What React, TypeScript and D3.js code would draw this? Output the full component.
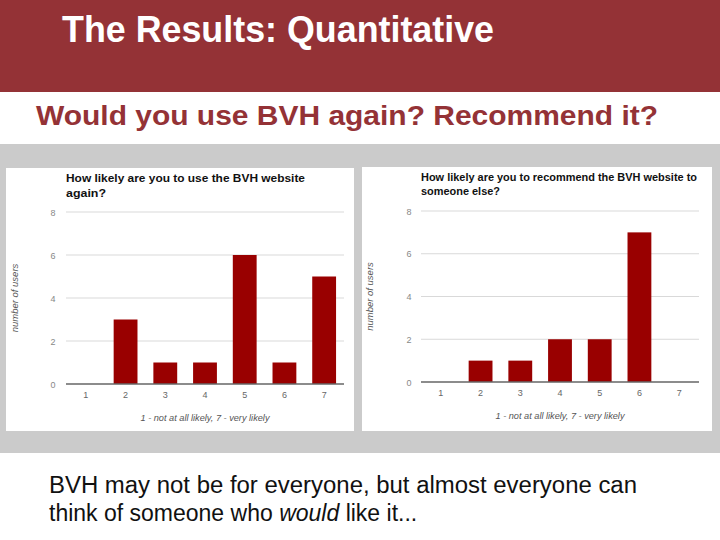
import React from "react";
import * as d3 from "d3";

const categories = ["1", "2", "3", "4", "5", "6", "7"];
const useAgainValues = [0, 3, 1, 1, 6, 1, 5];
const recommendValues = [0, 1, 1, 2, 2, 7, 0];
const yTicks = [0, 2, 4, 6, 8];

const slideTitle = "The Results: Quantitative";
const slideSubtitle = "Would you use BVH again? Recommend it?";
const leftTitle = ["How likely are you to use the BVH website", "again?"];
const rightTitle = ["How likely are you to recommend the BVH website to", "someone else?"];
const xAxisTitle = "1 - not at all likely, 7 - very likely";
const yAxisTitle = "number of users";

const RED = "#943236";
const BAR = "#990000";
const FONT = "'Liberation Sans', Arial, sans-serif";

type ChartProps = {
  panel: { x: number; y: number; w: number; h: number };
  plot: { left: number; right: number; top: number; bottom: number };
  title: string[];
  titleY: number[];
  titleWidths: number[];
  values: number[];
  yTickX: number;
  yTitleX: number;
};

function Chart({ panel, plot, title, titleY, titleWidths, values, yTickX, yTitleX }: ChartProps) {
  const x = d3.scaleBand<string>().domain(categories).range([plot.left, plot.right]).paddingInner(0.4).paddingOuter(0.2);
  const y = d3.scaleLinear().domain([0, 8]).range([plot.bottom, plot.top]);
  const cx = (plot.left + plot.right) / 2;
  const cy = (plot.top + plot.bottom) / 2;
  return (
    <g>
      <rect x={panel.x} y={panel.y} width={panel.w} height={panel.h} fill="#ffffff" />
      {title.map((t, i) => (
        <text key={i} x={plot.left} y={titleY[i]} fontFamily={FONT} fontWeight="bold" fontSize={11.5} fill="#111" textLength={titleWidths[i]} lengthAdjust="spacingAndGlyphs">
          {t}
        </text>
      ))}
      {yTicks.map((t) => (
        <g key={t}>
          {t > 0 && <line x1={plot.left} x2={plot.right} y1={y(t)} y2={y(t)} stroke="#d9d9d9" strokeWidth={1} />}
          <text x={yTickX} y={y(t) + 3.5} textAnchor="middle" fontFamily={FONT} fontSize={9} fill="#888">
            {t}
          </text>
        </g>
      ))}
      {values.map((v, i) => (
        <rect key={i} x={x(categories[i])} y={y(v)} width={x.bandwidth()} height={y(0) - y(v)} fill={BAR} />
      ))}
      <line x1={plot.left} x2={plot.right} y1={y(0)} y2={y(0)} stroke="#666" strokeWidth={1.5} />
      {categories.map((c) => (
        <text key={c} x={(x(c) as number) + x.bandwidth() / 2} y={y(0) + 14} textAnchor="middle" fontFamily={FONT} fontSize={9} fill="#666">
          {c}
        </text>
      ))}
      <text x={cx} y={y(0) + 37} textAnchor="middle" fontFamily={FONT} fontSize={9.2} fontStyle="italic" fill="#555">
        {xAxisTitle}
      </text>
      <text transform={`translate(${yTitleX},${cy}) rotate(-90)`} textAnchor="middle" fontFamily={FONT} fontSize={9.5} fontStyle="italic" fill="#555">
        {yAxisTitle}
      </text>
    </g>
  );
}

export default function App() {
  return (
    <svg width={720} height={540} style={{ position: "absolute", left: 0, top: 0 }}>
      <rect x={0} y={0} width={720} height={540} fill="#ffffff" />
      <rect x={0} y={0} width={720} height={92} fill={RED} />
      <text x={62} y={42} fontFamily={FONT} fontWeight="bold" fontSize={36} fill="#ffffff" textLength={432} lengthAdjust="spacingAndGlyphs">
        {slideTitle}
      </text>
      <text x={36} y={125} fontFamily={FONT} fontWeight="bold" fontSize={28} fill={RED} textLength={622} lengthAdjust="spacingAndGlyphs">
        {slideSubtitle}
      </text>
      <rect x={0} y={144} width={720} height={309} fill="#cbcbcb" />
      <Chart
        panel={{ x: 6, y: 168, w: 348, h: 263 }}
        plot={{ left: 66, right: 344, top: 212, bottom: 384 }}
        title={leftTitle}
        titleY={[182, 197]}
        titleWidths={[239, 40]}
        values={useAgainValues}
        yTickX={53}
        yTitleX={18}
      />
      <Chart
        panel={{ x: 362, y: 167, w: 350, h: 264 }}
        plot={{ left: 421, right: 699, top: 211, bottom: 382 }}
        title={rightTitle}
        titleY={[181, 195]}
        titleWidths={[276, 79]}
        values={recommendValues}
        yTickX={409}
        yTitleX={373}
      />
      <text x={49} y={493} fontFamily={FONT} fontSize={23} fill="#111" textLength={588} lengthAdjust="spacingAndGlyphs">
        BVH may not be for everyone, but almost everyone can
      </text>
      <text x={49} y={521} fontFamily={FONT} fontSize={23} fill="#111">
        think of someone who <tspan fontStyle="italic">would</tspan> like it...
      </text>
    </svg>
  );
}
